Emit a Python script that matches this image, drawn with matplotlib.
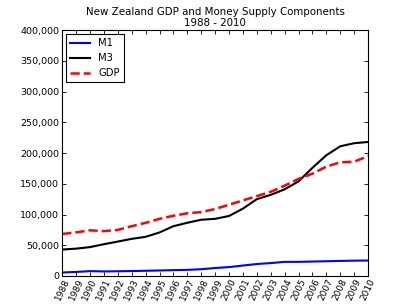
import matplotlib
matplotlib.use('Agg')
import matplotlib.pyplot as plt
from matplotlib.ticker import FuncFormatter

years = list(range(1988, 2011))
m1 = [5700, 6600, 7900, 7400, 7700, 8000, 8500, 9000, 9500, 10000, 11000, 13000,
      14500, 17000, 19500, 21000, 23000, 23000, 23500, 24000, 24500, 25000, 25200]
m3 = [43000, 44500, 47000, 51700, 56000, 60400, 63700, 70800, 81000, 86600, 91500, 93000,
      97600, 109600, 125000, 132000, 141000, 154000, 176000, 196500, 211000, 216000, 218000]
gdp = [68300, 71000, 74300, 73000, 75000, 81000, 86500, 93000, 98000, 102000, 104000, 109000,
       116000, 123000, 130000, 137000, 147000, 158000, 166500, 178000, 185000, 186000, 195000]

fig = plt.figure(figsize=(4.09, 3.07), dpi=100)
ax = fig.add_axes([0.152, 0.101, 0.748, 0.801])

ax.plot(years, m1, color='#0000ff', lw=1.5, label='M1')
ax.plot(years, m3, color='black', lw=1.5, label='M3')
ax.plot(years, gdp, color='red', lw=1.8, ls='--', label='GDP')

ax.set_xlim(1988, 2010)
ax.set_ylim(0, 400000)
ax.set_xticks(years)
ax.set_xticklabels([str(y) for y in years], rotation=65, fontsize=6.5)
ax.set_yticks(range(0, 400001, 50000))
ax.yaxis.set_major_formatter(FuncFormatter(lambda v, p: '{:,.0f}'.format(v)))
ax.tick_params(axis='y', labelsize=6.8, pad=2)
ax.tick_params(axis='x', pad=1)
ax.tick_params(direction='in', top=True, right=True, length=3, width=0.6)
for s in ax.spines.values():
    s.set_linewidth(0.8)

ax.set_title('New Zealand GDP and Money Supply Components\n1988 - 2010', fontsize=7.4, linespacing=1.15, pad=3)

leg = ax.legend(loc='upper left', fontsize=7.2, fancybox=False, framealpha=1,
                handlelength=2.0, borderaxespad=0.4)
leg.get_frame().set_edgecolor('black')
leg.get_frame().set_linewidth(0.8)

fig.savefig('out.png', dpi=100)
